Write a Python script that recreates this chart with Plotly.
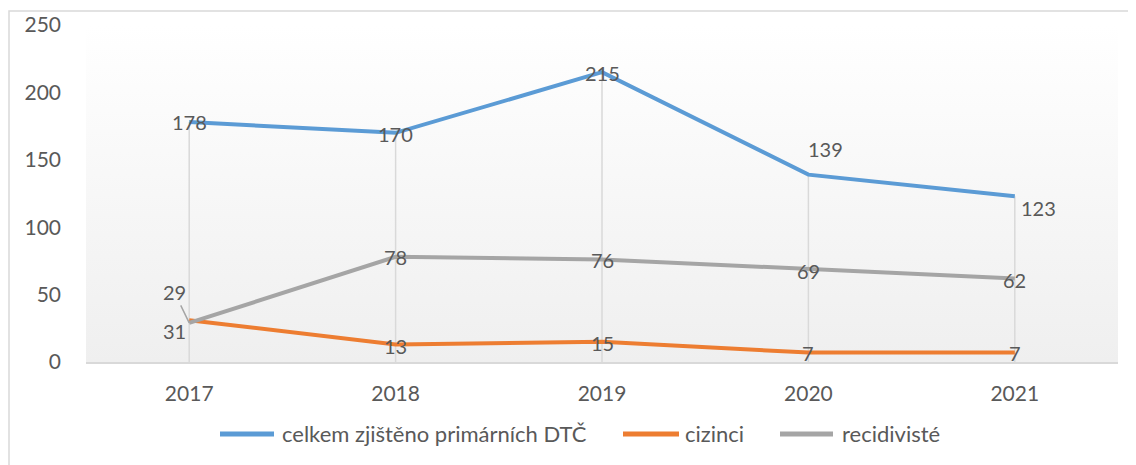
import plotly.graph_objects as go

# data
years = [2017, 2018, 2019, 2020, 2021]
celkem = [178, 170, 215, 139, 123]
cizinci = [31, 13, 15, 7, 7]
recidiviste = [29, 78, 76, 69, 62]

SERIES = [
    ("celkem zjištěno primárních DTČ", celkem, "#5B9BD5"),
    ("cizinci", cizinci, "#ED7D31"),
    ("recidivisté", recidiviste, "#A5A5A5"),
]

# label offsets in px (xshift, yshift) per point, per series
LABEL_SHIFT = {
    "celkem zjištěno primárních DTČ": [(0, 0), (0, -1), (0, -1), (17, 26), (24, -12)],
    "cizinci": [(-15, -11), (0, -2), (0, -1), (0, 0), (0, 0)],
    "recidivisté": [None, (0, 0), (0, 0), (0, -2), (0, -2)],
}

# hand-made legend: line start/end and text start, in page px
LEGEND_POS = [(220, 274, 280), (623, 679, 683), (780, 833, 840)]
LEGEND_Y = 433

FONT = "Lato"
TEXT_COLOR = "#595959"
GRID = "#d9d9d9"

# plot area in page px (page has an 8px body margin)
PLOT_L, PLOT_R, PLOT_T, PLOT_B = 86, 1118, 25, 362
BODY = 8


def px_x(p):
    return (p - PLOT_L) / (PLOT_R - PLOT_L)


def px_y(p):
    return (PLOT_B - p) / (PLOT_B - PLOT_T)


x_range = [years[0] - 0.5, years[-1] + 0.5]
y_range = [0, 250]

fig = go.Figure()

# plot area background: soft vertical gradient
fig.add_trace(go.Scatter(
    x=[x_range[0], x_range[1], x_range[1], x_range[0], x_range[0]],
    y=[y_range[0], y_range[0], y_range[1], y_range[1], y_range[0]],
    fill="toself",
    fillgradient=dict(type="vertical", colorscale=[[0, "#efefef"], [1, "#ffffff"]]),
    line=dict(width=0),
    mode="lines",
    hoverinfo="skip",
    showlegend=False,
))

# drop lines from highest point to the axis
drop_x, drop_y = [], []
for i, yr in enumerate(years):
    top = max(s[1][i] for s in SERIES)
    drop_x += [yr, yr, None]
    drop_y += [top, 0, None]
fig.add_trace(go.Scatter(
    x=drop_x, y=drop_y, mode="lines",
    line=dict(color=GRID, width=1.5),
    hoverinfo="skip", showlegend=False,
))

for name, vals, color in SERIES:
    fig.add_trace(go.Scatter(
        x=years, y=vals, name=name, mode="lines",
        line=dict(color=color, width=4),
        showlegend=False,
    ))

label_font = dict(family=FONT, size=20, color=TEXT_COLOR)
annotations = []
for name, vals, color in SERIES:
    for i, (yr, v) in enumerate(zip(years, vals)):
        shift = LABEL_SHIFT[name][i]
        if shift is None:
            # label pulled away with a leader line
            annotations.append(dict(
                x=yr, y=v, text=str(v), showarrow=True,
                ax=-15, ay=-31, arrowhead=0, arrowwidth=1.5,
                arrowcolor=color, standoff=0, font=label_font,
            ))
            continue
        annotations.append(dict(
            x=yr, y=v, text=str(v), showarrow=False,
            xshift=shift[0], yshift=shift[1], font=label_font,
        ))

# chart border (only top and left show inside the window)
shapes = [dict(
    type="rect", xref="paper", yref="paper",
    x0=px_x(9), x1=1.2, y0=-0.6, y1=px_y(11),
    line=dict(color=GRID, width=1.5),
    fillcolor="rgba(0,0,0,0)",
    layer="below",
)]

# legend entries
for (name, vals, color), (lx0, lx1, tx) in zip(SERIES, LEGEND_POS):
    shapes.append(dict(
        type="line", xref="paper", yref="paper",
        x0=px_x(lx0), x1=px_x(lx1), y0=px_y(LEGEND_Y + 1), y1=px_y(LEGEND_Y + 1),
        line=dict(color=color, width=5),
    ))
    annotations.append(dict(
        xref="paper", yref="paper", x=px_x(tx), y=px_y(LEGEND_Y),
        xanchor="left", yanchor="middle", text=name, showarrow=False,
        font=dict(family=FONT, size=22, color=TEXT_COLOR),
    ))

fig.update_layout(
    width=1136 - BODY,
    height=465 - BODY,
    margin=dict(
        l=PLOT_L - BODY, r=1136 - PLOT_R, t=PLOT_T - BODY, b=465 - PLOT_B,
        autoexpand=False,
    ),
    paper_bgcolor="white",
    plot_bgcolor="white",
    font=dict(family=FONT, size=21, color=TEXT_COLOR),
    showlegend=False,
    xaxis=dict(
        range=x_range,
        tickvals=years,
        showgrid=False,
        zeroline=False,
        showline=True,
        linecolor=GRID,
        linewidth=1.5,
        ticks="",
        ticklabelstandoff=12,
        tickfont=dict(size=21),
        automargin=False,
    ),
    yaxis=dict(
        range=y_range,
        tickvals=[0, 50, 100, 150, 200, 250],
        showgrid=False,
        zeroline=False,
        showline=False,
        ticks="",
        ticklabelstandoff=24,
        tickfont=dict(size=21),
        automargin=False,
    ),
    annotations=annotations,
    shapes=shapes,
)

fig.write_html("out.html")
